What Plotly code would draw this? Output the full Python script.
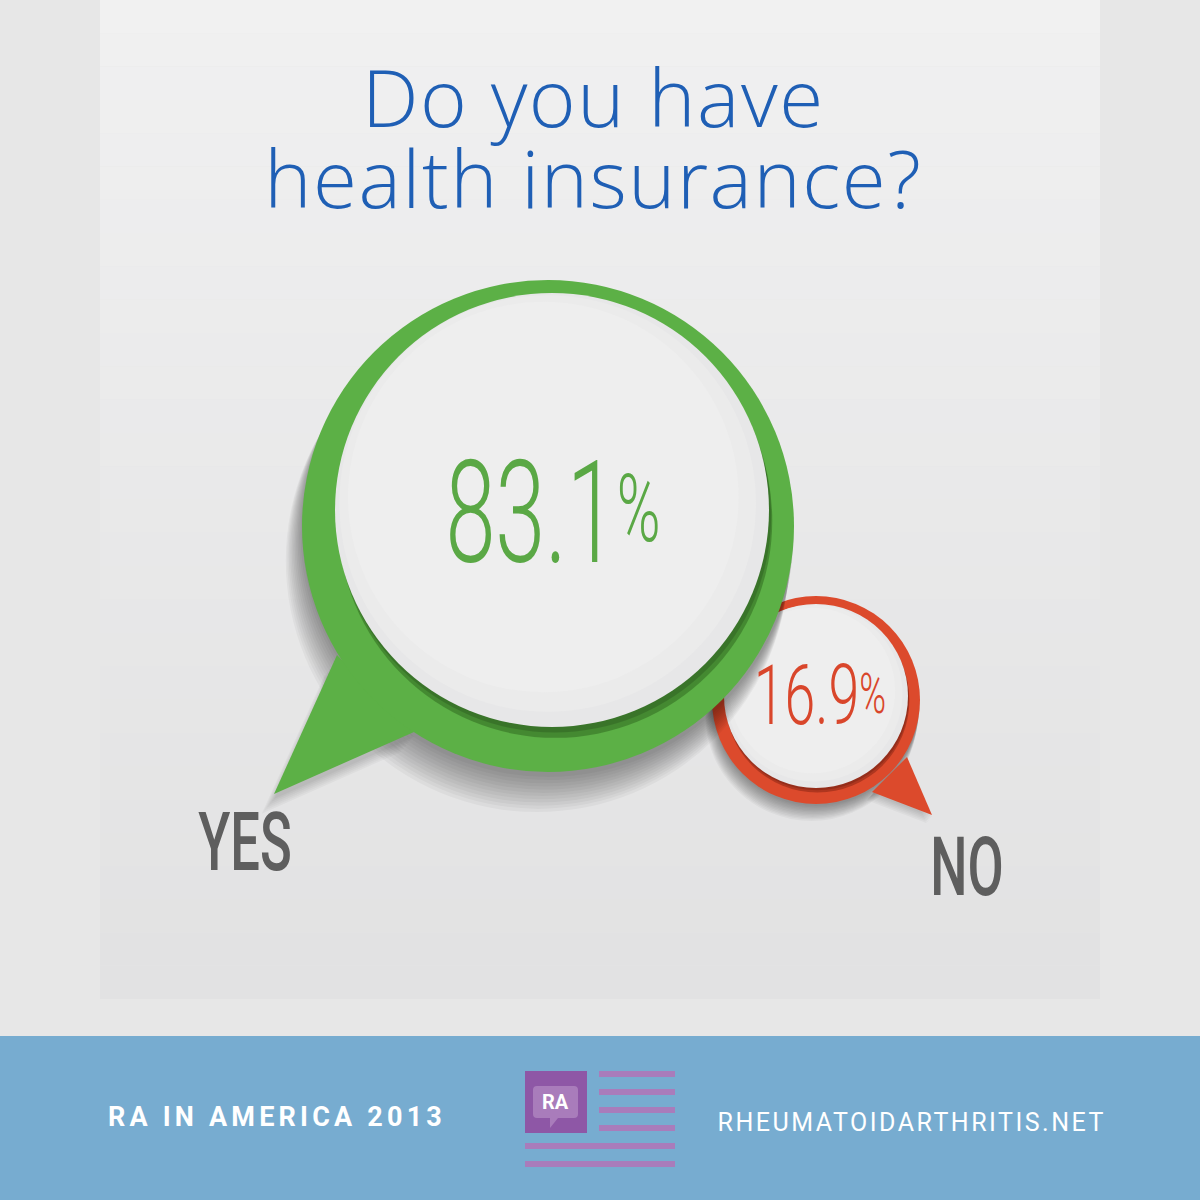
import json
import plotly.graph_objects as go

# ---- data ----
labels = ["YES", "NO"]
values = [83.1, 16.9]
title_lines = ["Do you have", "health insurance?"]
footer_left = "RA IN AMERICA 2013"
footer_right = "RHEUMATOIDARTHRITIS.NET"
logo_text = "RA"

# ---- styles / layout (pixel coordinates) ----
bubble_style = {
    "YES": dict(cx=548, cy=526, r=246, icx=552, icy=510, ir=217, ring="#5cb046", ring_dark="rgba(40,90,25,0.45)",
                text="#5aa845", tsize=143, txy=(553, 526), sx=0.63, tail=[(337, 655), (274, 794), (414, 732)],
                label_xy=(245, 850), label_size=82),
    "NO": dict(cx=816, cy=700, r=104, icx=816, icy=696, ir=92, ring="#dc4a2c", ring_dark="rgba(120,30,15,0.45)",
               text="#d9462b", tsize=84, txy=(820, 703), sx=0.66, tail=[(872, 792), (932, 815), (907, 757)],
               label_xy=(967, 875), label_size=82),
}
BG = "#e7e7e7"
PANEL = (100, 0, 1100, 999)
BAND_TOP = 1036
BAND = "#77acd0"
PURPLE = "#8e57a6"
PURPLE_LIGHT = "#a97cbb"
NUM_FONT = "Roboto"
TITLE_FONT = "Open Sans"
TITLE_LINE_GAP = 81

fig = go.Figure()
shapes = []


def circle(cx, cy, r, fill):
    return dict(type="circle", xref="x", yref="y", x0=cx - r, y0=cy - r, x1=cx + r, y1=cy + r,
                fillcolor=fill, line=dict(width=0), layer="below")


def rect(x0, y0, x1, y1, fill):
    return dict(type="rect", xref="x", yref="y", x0=x0, y0=y0, x1=x1, y1=y1,
                fillcolor=fill, line=dict(width=0), layer="below")


def poly(pts, fill):
    d = "M " + " L ".join(f"{x},{y}" for x, y in pts) + " Z"
    return dict(type="path", xref="x", yref="y", path=d, fillcolor=fill, line=dict(width=0), layer="below")


# panel with soft vertical gradient
x0, y0, x1, y1 = PANEL
n = 30
top_c = (241, 241, 241)
bot_c = (226, 226, 227)
for i in range(n):
    t = i / (n - 1)
    c = tuple(int(top_c[k] + (bot_c[k] - top_c[k]) * t) for k in range(3))
    shapes.append(rect(x0, y0 + (y1 - y0) * i / n, x1, y0 + (y1 - y0) * (i + 1) / n, f"rgb{c}"))

# bubbles: NO first (it sits behind YES)
for lab in ["NO", "YES"]:
    s = bubble_style[lab]
    R = s["r"]
    # soft drop shadow, mostly below
    for k in range(12):
        shapes.append(circle(s["cx"] - k * R * 0.004, s["cy"] + R * 0.02 + k * R * 0.011,
                             R + k * R * 0.002, "rgba(0,0,0,0.034)"))
    for k in range(6):
        tail_sh = [(x - k * R * 0.01, y + R * 0.02 + k * R * 0.012) for x, y in s["tail"]]
        shapes.append(poly(tail_sh, "rgba(0,0,0,0.03)"))
    # ring + tail
    shapes.append(poly(s["tail"], s["ring"]))
    shapes.append(circle(s["cx"], s["cy"], R, s["ring"]))
    # inner shadow crescent
    shapes.append(circle(s["icx"] + s["ir"] * 0.015, s["icy"] + s["ir"] * 0.05, s["ir"], s["ring_dark"]))
    shapes.append(circle(s["icx"] + s["ir"] * 0.01, s["icy"] + s["ir"] * 0.025, s["ir"], "rgba(0,0,0,0.15)"))
    # white disc with subtle gradient
    shapes.append(circle(s["icx"], s["icy"], s["ir"], "#e7e7e8"))
    shapes.append(circle(s["icx"] - s["ir"] * 0.02, s["icy"] - s["ir"] * 0.03, s["ir"] * 0.96, "#ebebeb"))
    shapes.append(circle(s["icx"] - s["ir"] * 0.04, s["icy"] - s["ir"] * 0.06, s["ir"] * 0.9, "#eeeeee"))

# footer band
shapes.append(rect(0, BAND_TOP, 1200, 1200, BAND))
# logo
shapes.append(rect(525, 1071, 587, 1133, PURPLE))
shapes.append(dict(type="path", xref="x", yref="y",
                   path="M 537,1086 L 574,1086 Q 578,1086 578,1090 L 578,1114 Q 578,1118 574,1118 L 558,1118 "
                        "L 550,1128 L 550,1118 L 537,1118 Q 533,1118 533,1114 L 533,1090 Q 533,1086 537,1086 Z",
                   fillcolor=PURPLE_LIGHT, line=dict(width=0), layer="below"))
for yy in [1071, 1089, 1107, 1125]:
    shapes.append(rect(599, yy, 675, yy + 6, PURPLE_LIGHT))
for yy in [1143, 1161]:
    shapes.append(rect(525, yy, 675, yy + 6, PURPLE_LIGHT))

# value texts
squeeze = {}
for lab, v in zip(labels, values):
    s = bubble_style[lab]
    psize = int(s["tsize"] * 0.66)
    txt = f"{v}<span style='font-size:{psize}px;baseline-shift:{int(s['tsize'] * 0.14)}px'>%</span>"
    fig.add_trace(go.Scatter(x=[s["txy"][0]], y=[s["txy"][1]], mode="text", text=[txt],
                             textposition="middle center",
                             textfont=dict(family=NUM_FONT, size=s["tsize"], color=s["text"], weight=300),
                             hoverinfo="skip", showlegend=False))
    squeeze[f"{v}%"] = dict(sx=s["sx"])

# category labels
for lab in labels:
    s = bubble_style[lab]
    fig.add_trace(go.Scatter(x=[s["label_xy"][0]], y=[s["label_xy"][1]], mode="text", text=[lab],
                             textposition="middle center",
                             textfont=dict(family=NUM_FONT, size=s["label_size"], color="#5e5e5e", weight=500),
                             hoverinfo="skip", showlegend=False))
    squeeze[lab] = dict(sx=0.64)

squeeze[footer_left] = dict(ls=4.2)
squeeze[footer_right] = dict(ls=2.5)
squeeze["".join(title_lines)] = dict(ls=1.5, gap=TITLE_LINE_GAP)

annotations = [
    dict(x=593, y=39, yanchor="top", text="<br>".join(title_lines), showarrow=False, xref="x", yref="y",
         font=dict(family=TITLE_FONT, size=80, color="#1f5fb5", weight=300)),
    dict(x=106, y=1117, text=footer_left, showarrow=False, xref="x", yref="y", xanchor="left", align="left",
         font=dict(family="Roboto", size=27, color="white", weight=700)),
    dict(x=1108, y=1122, text=footer_right, showarrow=False, xref="x", yref="y", xanchor="right", align="right",
         font=dict(family="Roboto", size=25, color="white")),
    dict(x=555, y=1102, text=logo_text, showarrow=False, xref="x", yref="y",
         font=dict(family="Roboto", size=20, color="white", weight=700)),
]

fig.update_layout(
    width=1200, height=1200, margin=dict(l=0, r=0, t=0, b=0),
    paper_bgcolor=BG, plot_bgcolor=BG,
    xaxis=dict(range=[0, 1200], visible=False, fixedrange=True),
    yaxis=dict(range=[1200, 0], visible=False, fixedrange=True),
    shapes=shapes, annotations=annotations, showlegend=False,
)

post_js = """
document.body.style.margin = '0';
document.body.style.padding = '0';
var gd = document.getElementById('{plot_id}');
var cfg = CFG;
gd.querySelectorAll('text').forEach(function(el){
  var c = cfg[el.textContent];
  if(!c) return;
  if(c.ls !== undefined){ el.style.letterSpacing = c.ls + 'px'; }
  if(c.gap !== undefined){
    var lines = el.querySelectorAll('tspan.line');
    for(var i = 0; i < lines.length; i++){ lines[i].setAttribute('dy', (i * c.gap) + 'px'); }
  }
  if(c.sx !== undefined){
    var x = parseFloat(el.getAttribute('x')) || 0;
    el.setAttribute('transform', 'translate(' + x + ',0) scale(' + c.sx + ',1) translate(' + (-x) + ',0)');
  }
});
""".replace("CFG", json.dumps(squeeze))

fig.write_html("out.html", post_script=post_js, config={"displayModeBar": False})
